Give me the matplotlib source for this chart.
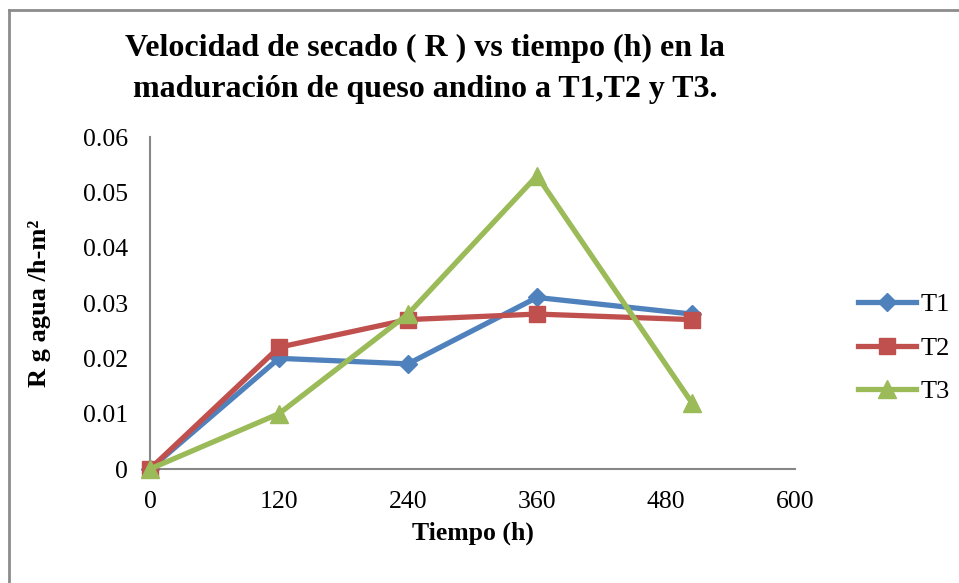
import matplotlib.pyplot as plt
from matplotlib.lines import Line2D

plt.rcParams['font.family'] = ['Liberation Serif', 'DejaVu Serif']

# drying rate vs time for the three ripening temperatures
tiempo = [0, 120, 240, 360, 504]
t1 = [0, 0.020, 0.019, 0.031, 0.028]
t2 = [0, 0.022, 0.027, 0.028, 0.027]
t3 = [0, 0.010, 0.028, 0.053, 0.012]
series = ["T1", "T2", "T3"]
colores = ["#4F81BD", "#C0504D", "#9BBB59"]
marcadores = ["D", "s", "^"]
tamanos = [9, 12, 13]

x_ticks = [0, 120, 240, 360, 480, 600]
y_ticks = [0, 0.01, 0.02, 0.03, 0.04, 0.05, 0.06]
y_labels = ["0", "0.01", "0.02", "0.03", "0.04", "0.05", "0.06"]

fig = plt.figure(figsize=(9.59, 5.83), dpi=100)
ax = fig.add_axes([150 / 959, 114 / 583, 645 / 959, 332 / 583])

for datos, nombre, col, mk, ms in zip([t1, t2, t3], series, colores, marcadores, tamanos):
    ax.plot(tiempo, datos, color=col, lw=3.8, marker=mk, markersize=ms,
            label=nombre, clip_on=False, zorder=3)

ax.set_xlim(0, 600)
ax.set_ylim(0, 0.06)
ax.set_xticks(x_ticks)
ax.set_yticks(y_ticks)
ax.set_yticklabels(y_labels)
ax.tick_params(length=0, labelsize=18.5)
ax.tick_params(axis='y', pad=16)
ax.tick_params(axis='x', pad=16)
for s in ["top", "right"]:
    ax.spines[s].set_visible(False)
for s in ["left", "bottom"]:
    ax.spines[s].set_color("#878787")
    ax.spines[s].set_linewidth(1.5)

ax.set_xlabel("Tiempo (h)", fontsize=18.5, fontweight="bold", labelpad=6)
fig.text(40 / 959, 1 - 303 / 583, "R g agua /h-m²", rotation=90, fontsize=19,
         fontweight="bold", ha="center", va="center")

fig.text(425 / 959, 1 - 48 / 583, "Velocidad de secado ( R ) vs tiempo (h) en la",
         fontsize=23, fontweight="bold", ha="center", va="center")
fig.text(425 / 959, 1 - 90 / 583, "maduración de queso andino a T1,T2 y T3.",
         fontsize=23, fontweight="bold", ha="center", va="center")

leg = fig.legend(loc="center left", bbox_to_anchor=(845 / 959, 1 - 348 / 583),
                 frameon=False, fontsize=19, handlelength=2.2, handletextpad=0.15,
                 labelspacing=0.75, borderpad=0)

# chart area border
fig.add_artist(Line2D([9 / 959, 1], [1 - 10 / 583, 1 - 10 / 583], color="#8C8C8C", lw=2))
fig.add_artist(Line2D([9 / 959, 9 / 959], [0, 1 - 10 / 583], color="#8C8C8C", lw=2))

fig.savefig("out.png", dpi=100)
